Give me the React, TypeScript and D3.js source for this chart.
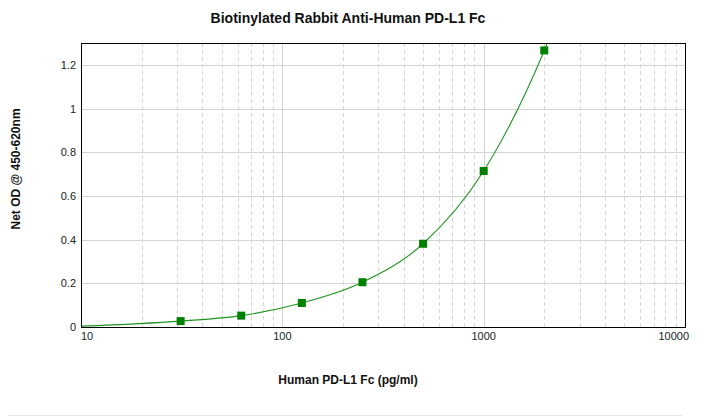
import { useRef, useEffect } from "react";
import * as d3 from "d3";

// Standard curve: concentration (pg/ml) vs net OD
const concentrations = [31.25, 62.5, 125, 250, 500, 1000, 2000];
const odValues = [0.027, 0.052, 0.11, 0.205, 0.381, 0.714, 1.266];
// fitted line (ends beyond the data, clipped at top)
const fitX = [10, 31.25, 62.5, 125, 250, 500, 1000, 2000, 2200];
const fitY = [0.004, 0.027, 0.052, 0.11, 0.205, 0.381, 0.714, 1.266, 1.36];
const yTicks = [0, 0.2, 0.4, 0.6, 0.8, 1, 1.2];
const xTicks = [10, 100, 1000, 10000];

const W = 703;
const H = 416;
const FONT = "Arial, 'Liberation Sans', sans-serif";

export default function App() {
  const svgRef = useRef<SVGSVGElement>(null);

  useEffect(() => {
    if (!svgRef.current) return;
    const svg = d3.select(svgRef.current);
    svg.selectAll("*").remove();

    const margin = { top: 43, right: 18, bottom: 89, left: 81 };
    const w = W - margin.left - margin.right;
    const h = H - margin.top - margin.bottom;

    const x = d3.scaleLog().domain([10, 10000]).range([0, w]);
    const y = d3.scaleLinear().domain([0, 1.3]).range([h, 0]);

    const g = svg.append("g").attr("transform", `translate(${margin.left},${margin.top})`);

    svg.append("defs").append("clipPath").attr("id", "plot-clip")
      .append("rect").attr("width", w).attr("height", h);

    // minor vertical grid (dashed)
    const minor: number[] = [];
    [10, 100, 1000].forEach((d) => {
      for (let k = 2; k <= 9; k++) minor.push(d * k);
    });
    g.selectAll("line.minor")
      .data(minor)
      .join("line")
      .attr("class", "minor")
      .attr("x1", (d) => Math.round(x(d)) + 0.5).attr("x2", (d) => Math.round(x(d)) + 0.5)
      .attr("y1", 0).attr("y2", h)
      .attr("stroke", "#d6d6d6")
      .attr("stroke-dasharray", "4,3");

    // major vertical grid
    g.selectAll("line.major")
      .data([100, 1000])
      .join("line")
      .attr("class", "major")
      .attr("x1", (d) => Math.round(x(d)) + 0.5).attr("x2", (d) => Math.round(x(d)) + 0.5)
      .attr("y1", 0).attr("y2", h)
      .attr("stroke", "#d4d4d4");

    // horizontal grid
    g.selectAll("line.hgrid")
      .data(yTicks.slice(1))
      .join("line")
      .attr("class", "hgrid")
      .attr("x1", 0).attr("x2", w)
      .attr("y1", (d) => Math.round(y(d)) + 0.5).attr("y2", (d) => Math.round(y(d)) + 0.5)
      .attr("stroke", "#d4d4d4");

    // fitted curve
    const line = d3.line<number>()
      .x((_d, i) => x(fitX[i]))
      .y((d) => y(d))
      .curve(d3.curveMonotoneX);
    g.append("path")
      .datum(fitY)
      .attr("clip-path", "url(#plot-clip)")
      .attr("d", line)
      .attr("fill", "none")
      .attr("stroke", "#1f951f")
      .attr("stroke-width", 1.1);

    // markers
    g.selectAll("rect.pt")
      .data(odValues)
      .join("rect")
      .attr("class", "pt")
      .attr("x", (_d, i) => x(concentrations[i]) - 4)
      .attr("y", (d) => y(d) - 4)
      .attr("width", 8)
      .attr("height", 8)
      .attr("fill", "#008000");

    // frame
    g.append("rect")
      .attr("x", 0.5).attr("y", 0.5)
      .attr("width", w).attr("height", h)
      .attr("fill", "none")
      .attr("stroke", "#000")
      .attr("stroke-width", 1);

    // y tick labels
    g.selectAll("text.ytick")
      .data(yTicks)
      .join("text")
      .attr("class", "ytick")
      .attr("x", -5)
      .attr("y", (d) => y(d) + 4)
      .attr("text-anchor", "end")
      .attr("font-family", FONT)
      .attr("font-size", 11)
      .attr("fill", "#222")
      .text((d) => String(d));

    // x tick labels
    g.selectAll("text.xtick")
      .data(xTicks)
      .join("text")
      .attr("class", "xtick")
      .attr("x", (d) => (d === 10 ? 0 : d === 10000 ? w + 4 : x(d)))
      .attr("y", h + 13)
      .attr("text-anchor", (d) => (d === 10 ? "start" : d === 10000 ? "end" : "middle"))
      .attr("font-family", FONT)
      .attr("font-size", 11)
      .attr("fill", "#222")
      .text((d) => String(d));

    // title
    svg.append("text")
      .attr("x", 348).attr("y", 23)
      .attr("text-anchor", "middle")
      .attr("font-family", FONT)
      .attr("font-weight", "bold")
      .attr("font-size", 14)
      .attr("fill", "#111")
      .text("Biotinylated Rabbit Anti-Human PD-L1 Fc");

    // axis titles
    svg.append("text")
      .attr("x", 348).attr("y", 384)
      .attr("text-anchor", "middle")
      .attr("font-family", FONT)
      .attr("font-weight", "bold")
      .attr("font-size", 12)
      .attr("fill", "#111")
      .text("Human PD-L1 Fc (pg/ml)");

    svg.append("text")
      .attr("transform", "translate(20,169) rotate(-90)")
      .attr("text-anchor", "middle")
      .attr("font-family", FONT)
      .attr("font-weight", "bold")
      .attr("font-size", 12)
      .attr("fill", "#111")
      .text("Net OD @ 450-620nm");

    // bottom separator
    svg.append("line")
      .attr("x1", 9).attr("x2", 682)
      .attr("y1", 415.5).attr("y2", 415.5)
      .attr("stroke", "#e6e6e6");
  }, []);

  return (
    <svg
      ref={svgRef}
      width={W}
      height={H}
      style={{ position: "absolute", left: 0, top: 0, background: "#fff" }}
    />
  );
}
